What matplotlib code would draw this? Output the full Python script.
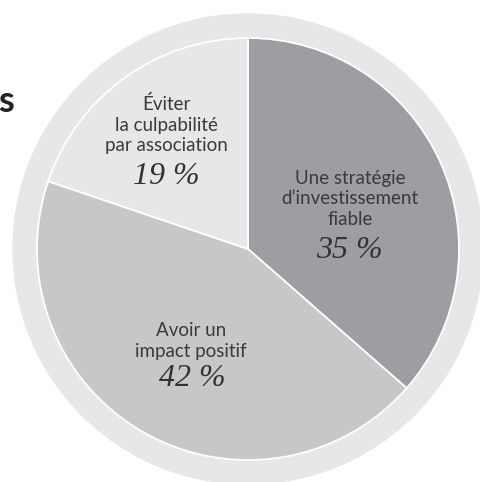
import matplotlib.pyplot as plt
from matplotlib.patches import Circle

# survey shares (percent), clockwise from the top
labels = ["Une stratégie\nd\u2019investissement\nfiable",
          "Avoir un\nimpact positif",
          "Éviter\nla culpabilité\npar association"]
shares = [35, 42, 19]
pct_text = ["35 %", "42 %", "19 %"]
colors = ['#9d9ea1', '#c6c7c9', '#e6e7e8']
ring_color = '#e6e7e8'

# where the labels sit (pixels in the 480x482 image)
label_px = [(350, 199), (191, 341), (166, 125)]
pct_px = [(349, 251), (192, 379), (166, 177)]

W, H = 480, 482
CX, CY, R = 248, 249, 211


def px2data(x, y):
    return (x - CX) / R, (CY - y) / R


fig = plt.figure(figsize=(W / 100, H / 100), dpi=100)
ax = fig.add_axes([0, 0, 1, 1])

# outer light ring
ax.add_patch(Circle((0, 0), 235 / R, color=ring_color, zorder=0))

ax.pie(shares, colors=colors, startangle=90, counterclock=False,
       radius=1.0, center=(0, 0), frame=True,
       wedgeprops=dict(edgecolor='white', linewidth=1.3))
ax.set_xlim(px2data(0, 0)[0], px2data(W, 0)[0])
ax.set_ylim(px2data(0, H)[1], px2data(0, 0)[1])
ax.set_aspect('auto')
ax.axis('off')

for lab, (lx, ly), pct, (qx, qy) in zip(labels, label_px, pct_text, pct_px):
    x, y = px2data(lx, ly)
    ax.text(x, y, lab, ha='center', va='center', fontsize=13.5,
            family='Lato', color='#3a3a3a', linespacing=1.25)
    x, y = px2data(qx, qy)
    ax.text(x, y, pct, ha='center', va='center', fontsize=23,
            family='Liberation Serif', style='italic', color='#333333')

# title letter at the left edge (rest of the title lies outside the crop)
x, y = px2data(14, 112)
ax.text(x, y, "s", ha='right', va='baseline', fontsize=26,
        family='Lato', weight='bold', color='#222222')

plt.savefig('out.png', dpi=100)
